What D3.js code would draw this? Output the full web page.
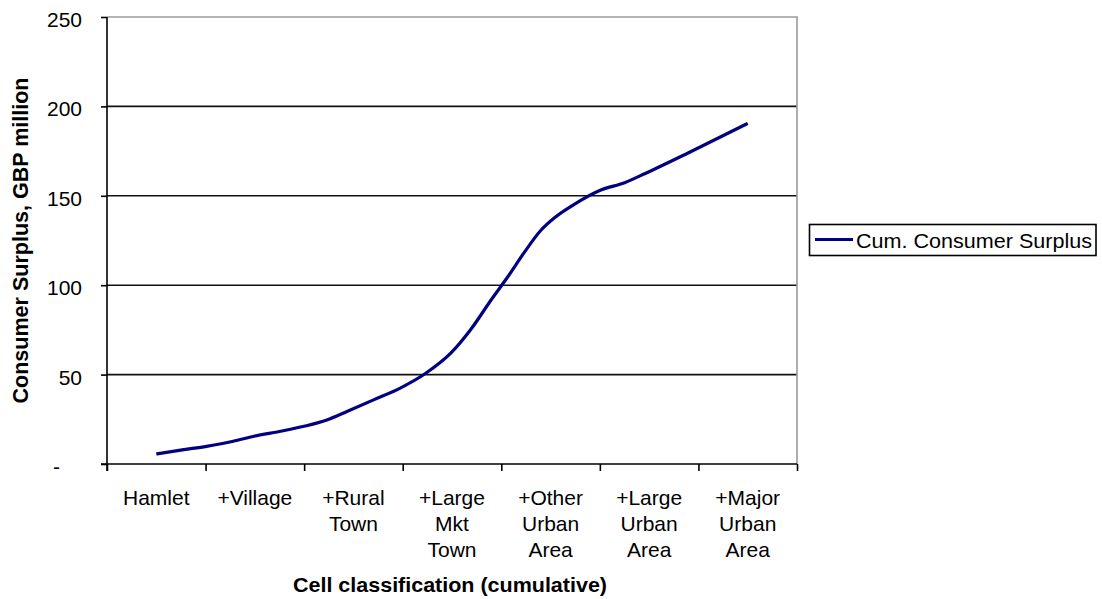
<!DOCTYPE html>
<html>
<head>
<meta charset="utf-8">
<script src="https://cdn.jsdelivr.net/npm/d3@7"></script>
<style>
  html, body { margin: 0; padding: 0; background: #fff; }
  svg { display: block; font-family: "Liberation Sans", Arial, sans-serif; }
</style>
</head>
<body>
<svg id="chart" width="1102" height="599"></svg>
<script>
// ---- data ----
const categories = ["Hamlet", "+Village", "+Rural Town", "+Large Mkt Town",
                    "+Other Urban Area", "+Large Urban Area", "+Major Urban Area"];
const categoryLines = [["Hamlet"], ["+Village"], ["+Rural", "Town"], ["+Large", "Mkt", "Town"],
                       ["+Other", "Urban", "Area"], ["+Large", "Urban", "Area"], ["+Major", "Urban", "Area"]];
// position along the category axis (0 = Hamlet ... 6 = +Major Urban Area)
const linePositions = [0.00, 0.28, 0.51, 0.78, 0.99, 1.26, 1.50, 1.73, 1.94, 2.21, 2.48, 2.73, 2.99,
                       3.19, 3.40, 3.57, 3.73, 3.90, 4.04, 4.24, 4.51, 4.75, 4.96, 5.40, 6.00];
const surplusValues = [5.6, 8.0, 9.9, 12.7, 15.5, 18.3, 21.1, 24.6, 29.5, 36.0, 42.6, 50.6, 62.1,
                       75.2, 92.0, 105.0, 118.1, 130.6, 137.7, 145.2, 153.2, 157.3, 162.5, 174.1, 190.5];
const yTicks = [0, 50, 100, 150, 200, 250];
const seriesName = "Cum. Consumer Surplus";
const xTitle = "Cell classification (cumulative)";
const yTitle = "Consumer Surplus, GBP million";

// ---- layout ----
const svg = d3.select("#chart");
const pL = 107, pR = 797, pT = 17, pB = 464;
const navy = "#000080";

const x = d3.scaleBand().domain(categories).range([pL, pR]).padding(0);
const bw = x.bandwidth();
const xPos = d3.scaleLinear().domain([0, categories.length - 1])
  .range([x(categories[0]) + bw / 2, x(categories[categories.length - 1]) + bw / 2]);
const xEdge = d3.scaleLinear().domain([0, categories.length]).range([pL, pR]);
const y = d3.scaleLinear().domain([0, 250]).range([pB, pT]);

// gridlines
svg.append("g").selectAll("line")
  .data(yTicks.filter(d => d > 0 && d < 250))
  .join("line")
  .attr("x1", pL).attr("x2", pR)
  .attr("y1", d => y(d)).attr("y2", d => y(d))
  .attr("stroke", "#111").attr("stroke-width", 1.6);

// plot border (top, right) grey
svg.append("path")
  .attr("d", `M${pL},${y(250)}H${pR}V${pB}`)
  .attr("fill", "none").attr("stroke", "#9a9a9a").attr("stroke-width", 1.6);

// y axis
const yAxis = svg.append("g").attr("transform", `translate(${pL},0)`)
  .call(d3.axisLeft(y).tickValues(yTicks).tickSize(6).tickPadding(19)
    .tickFormat(d => d === 0 ? "-" : d));
yAxis.select(".domain").remove();
yAxis.append("line").attr("x1", 0).attr("x2", 0).attr("y1", y(250)).attr("y2", pB + 7)
  .attr("stroke", "#000").attr("stroke-width", 1.6);
yAxis.selectAll(".tick line").attr("stroke", "#000").attr("stroke-width", 1.6);
yAxis.selectAll(".tick text")
  .attr("font-size", 21).attr("fill", "#000")
  .attr("font-family", "'Liberation Sans', Arial, sans-serif")
  .attr("dy", "0.45em")
  .attr("dx", d => d === 0 ? -22 : 0);

// x axis (ticks at category boundaries)
const xAxis = svg.append("g").attr("transform", `translate(0,${pB})`)
  .call(d3.axisBottom(xEdge).tickValues(d3.range(categories.length + 1)).tickSize(7).tickFormat(""));
xAxis.select(".domain").remove();
xAxis.append("line").attr("x1", pL - 6).attr("x2", pR).attr("y1", 0).attr("y2", 0)
  .attr("stroke", "#000").attr("stroke-width", 1.6);
xAxis.selectAll(".tick line").attr("stroke", "#000").attr("stroke-width", 1.6);

// category labels
const labels = svg.append("g").attr("font-size", 21).attr("text-anchor", "middle").attr("fill", "#000");
categories.forEach((c, i) => {
  const t = labels.append("text").attr("x", x(c) + bw / 2).attr("y", 505);
  categoryLines[i].forEach((ln, j) => {
    t.append("tspan").attr("x", x(c) + bw / 2).attr("y", 505 + j * 26).text(ln);
  });
});

// series line
const lineData = linePositions.map((p, i) => ({ p, v: surplusValues[i] }));
svg.append("path")
  .datum(lineData)
  .attr("fill", "none").attr("stroke", navy).attr("stroke-width", 3.2)
  .attr("stroke-linejoin", "round")
  .attr("d", d3.line().x(d => xPos(d.p)).y(d => y(d.v)).curve(d3.curveMonotoneX));

// axis titles
svg.append("text")
  .attr("x", (pL + pR) / 2 - 2).attr("y", 592)
  .attr("text-anchor", "middle").attr("font-weight", "bold").attr("font-size", 21)
  .attr("textLength", 314).attr("lengthAdjust", "spacingAndGlyphs")
  .text(xTitle);

svg.append("text")
  .attr("transform", `translate(28,${(pT + pB) / 2}) rotate(-90)`)
  .attr("text-anchor", "middle").attr("font-weight", "bold").attr("font-size", 22)
  .attr("textLength", 326).attr("lengthAdjust", "spacingAndGlyphs")
  .text(yTitle);

// legend
const lg = svg.append("g");
lg.append("rect").attr("x", 809.5).attr("y", 224.5).attr("width", 286.5).attr("height", 31)
  .attr("fill", "#fff").attr("stroke", "#000").attr("stroke-width", 1.6);
lg.append("line").attr("x1", 815).attr("x2", 853).attr("y1", 239.5).attr("y2", 239.5)
  .attr("stroke", navy).attr("stroke-width", 3.2);
lg.append("text").attr("x", 856).attr("y", 248).attr("font-size", 21)
  .attr("textLength", 236).attr("lengthAdjust", "spacingAndGlyphs")
  .text(seriesName);
</script>
</body>
</html>
